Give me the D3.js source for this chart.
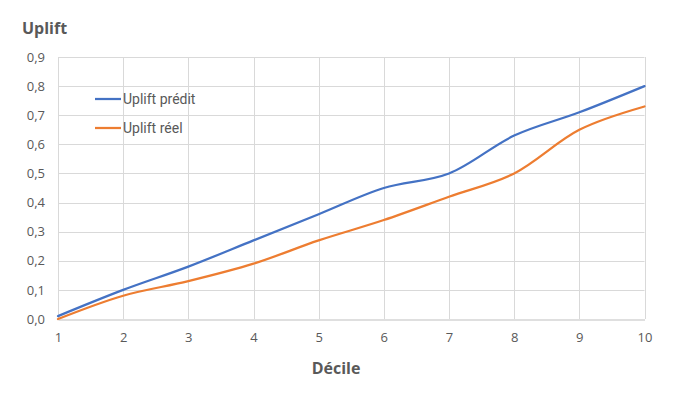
<!DOCTYPE html>
<html>
<head>
<meta charset="utf-8">
<script src="https://cdn.jsdelivr.net/npm/d3@7"></script>
<style>
  body { margin: 0; background: #fff; }
  text { font-family: "Open Sans", "Noto Sans", sans-serif; fill: #595959; }
</style>
</head>
<body>
<div id="chart"></div>
<script>
// Données
const deciles = [1, 2, 3, 4, 5, 6, 7, 8, 9, 10];
const upliftPredit = [0.01, 0.10, 0.18, 0.27, 0.36, 0.45, 0.50, 0.63, 0.71, 0.80];
const upliftReel = [0.00, 0.08, 0.13, 0.19, 0.27, 0.34, 0.42, 0.50, 0.65, 0.73];
const yTicks = [0, 0.1, 0.2, 0.3, 0.4, 0.5, 0.6, 0.7, 0.8, 0.9];
const seriesNames = ['Uplift prédit', 'Uplift réel'];
const seriesColors = ['#4472C4', '#ED7D31'];

const width = 691;
const height = 397;
const margin = {top: 57, right: 46, bottom: 78, left: 58};

const svg = d3.select('div#chart').append('svg').attr('width', width).attr('height', height);

const x = d3.scaleLinear().domain([1, 10]).range([margin.left, width - margin.right - 0.5]);
const y = d3.scaleLinear().domain([0, 0.9]).range([height - margin.bottom, margin.top]);

// Grille
const grid = svg.append('g').attr('class', 'grid');
grid.selectAll('line.h').data(yTicks.slice(1)).enter().append('line')
    .attr('x1', x(1)).attr('x2', x(10))
    .attr('y1', d => Math.round(y(d)) + 0.5).attr('y2', d => Math.round(y(d)) + 0.5)
    .attr('stroke', '#d9d9d9');
grid.selectAll('line.v').data(deciles).enter().append('line')
    .attr('x1', d => Math.round(x(d)) + 0.5).attr('x2', d => Math.round(x(d)) + 0.5)
    .attr('y1', y(0.9)).attr('y2', y(0))
    .attr('stroke', '#d9d9d9');

// Axes
const xAxis = d3.axisBottom(x).tickValues(deciles).tickSize(0).tickPadding(13);
const yAxis = d3.axisLeft(y).tickValues(yTicks).tickSize(0).tickPadding(13)
    .tickFormat(d => d3.format('.1f')(d).replace('.', ','));

const xAxisGroup = svg.append('g').attr('transform', `translate(0,${Math.round(y(0)) + 0.5})`).call(xAxis);
xAxisGroup.select('.domain').attr('stroke', '#bfbfbf');
const yAxisGroup = svg.append('g').attr('transform', `translate(${x(1)},0)`).call(yAxis);
yAxisGroup.select('.domain').remove();
svg.selectAll('.tick text').style('font-size', '13px').attr('fill', '#595959');

// Courbes lissées
const line = d3.line()
    .x((d, i) => x(deciles[i]))
    .y(d => y(d))
    .curve(d3.curveCatmullRom.alpha(0.5));

[upliftPredit, upliftReel].forEach((serie, i) => {
    svg.append('path')
        .attr('d', line(serie))
        .attr('fill', 'none')
        .attr('stroke', seriesColors[i])
        .attr('stroke-width', 2.25)
        .attr('stroke-linecap', 'round');
});

// Légende
const legend = svg.append('g').attr('transform', 'translate(95,99)');
seriesNames.forEach((name, i) => {
    const g = legend.append('g').attr('transform', `translate(0,${i * 29})`);
    g.append('line').attr('x1', 0).attr('x2', 26).attr('stroke', seriesColors[i]).attr('stroke-width', 2.25);
    g.append('text').attr('x', 28).attr('y', 5)
        .style('font-family', 'Roboto, sans-serif').style('font-size', '14px').text(name);
});

// Titres
svg.append('text').attr('x', 22).attr('y', 34).style('font-size', '16px').style('font-weight', 'bold').text('Uplift');
svg.append('text').attr('x', 336).attr('y', 374).attr('text-anchor', 'middle')
    .style('font-size', '16px').style('font-weight', 'bold').text('Décile');
</script>
</body>
</html>
